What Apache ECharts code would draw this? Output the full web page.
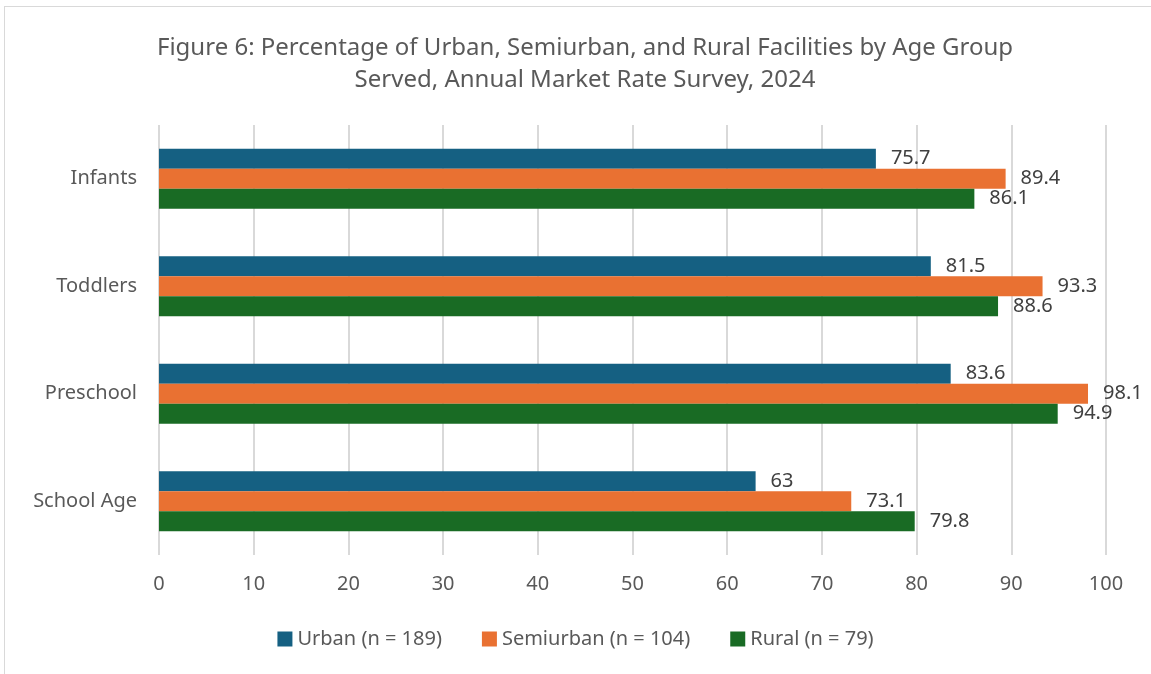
<!DOCTYPE html>
<html>
<head>
<meta charset="utf-8">
<script src="https://cdn.jsdelivr.net/npm/echarts@6/dist/echarts.min.js"></script>
<style>
  html, body { margin: 0; padding: 0; background: #fff; }
  #chart { width: 1151px; height: 674px; }
  #frame { position: absolute; left: 4px; top: 6px; width: 1160px; height: 680px; border: 1px solid #d9d9d9; pointer-events: none; }
</style>
</head>
<body>
<div id="chart"></div>
<div id="frame"></div>
<script>
var categories = ['Infants', 'Toddlers', 'Preschool', 'School Age'];
var urban = [75.7, 81.5, 83.6, 63];
var semiurban = [89.4, 93.3, 98.1, 73.1];
var rural = [86.1, 88.6, 94.9, 79.8];
var seriesNames = ['Urban (n = 189)', 'Semiurban (n = 104)', 'Rural (n = 79)'];
var colors = ['#156082', '#E97132', '#196B24'];

var myChart = echarts.init(document.getElementById('chart'));
var font = 'Noto Sans';

function makeSeries(name, values, color) {
    return {
        name: name,
        type: 'bar',
        data: values,
        barWidth: 20,
        barGap: '0%',
        itemStyle: { color: color },
        label: {
            show: true,
            position: 'right',
            distance: 15,
            color: '#404040',
            fontSize: 20,
            fontFamily: font
        }
    };
}

var option = {
    animation: false,
    backgroundColor: '#fff',
    title: {
        text: 'Figure 6: Percentage of Urban, Semiurban, and Rural Facilities by Age Group\nServed, Annual Market Rate Survey, 2024',
        left: 580,
        textAlign: 'center',
        top: 27,
        textStyle: {
            color: '#595959',
            fontSize: 24,
            fontWeight: 'normal',
            fontFamily: font,
            lineHeight: 32
        }
    },
    legend: {
        bottom: 20,
        left: 'center',
        itemWidth: 15,
        itemHeight: 15,
        itemGap: 40,
        icon: 'rect',
        textStyle: { color: '#595959', fontSize: 20, fontFamily: font },
        data: seriesNames
    },
    grid: { left: 159, right: 45, top: 125, bottom: 119, containLabel: false },
    xAxis: {
        type: 'value',
        min: 0,
        max: 100,
        interval: 10,
        axisLine: { show: false },
        axisTick: { show: false },
        splitLine: { lineStyle: { color: '#d9d9d9', width: 2 } },
        axisLabel: { color: '#595959', fontSize: 20, fontFamily: font, margin: 19 }
    },
    yAxis: {
        type: 'category',
        data: categories,
        inverse: true,
        axisLine: { show: false },
        axisTick: { show: false },
        axisLabel: { color: '#595959', fontSize: 20, fontFamily: font, margin: 22 }
    },
    series: [
        makeSeries(seriesNames[0], urban, colors[0]),
        makeSeries(seriesNames[1], semiurban, colors[1]),
        makeSeries(seriesNames[2], rural, colors[2])
    ]
};

myChart.setOption(option);
window.addEventListener('resize', function () {
    myChart.resize();
});
</script>
</body>
</html>
